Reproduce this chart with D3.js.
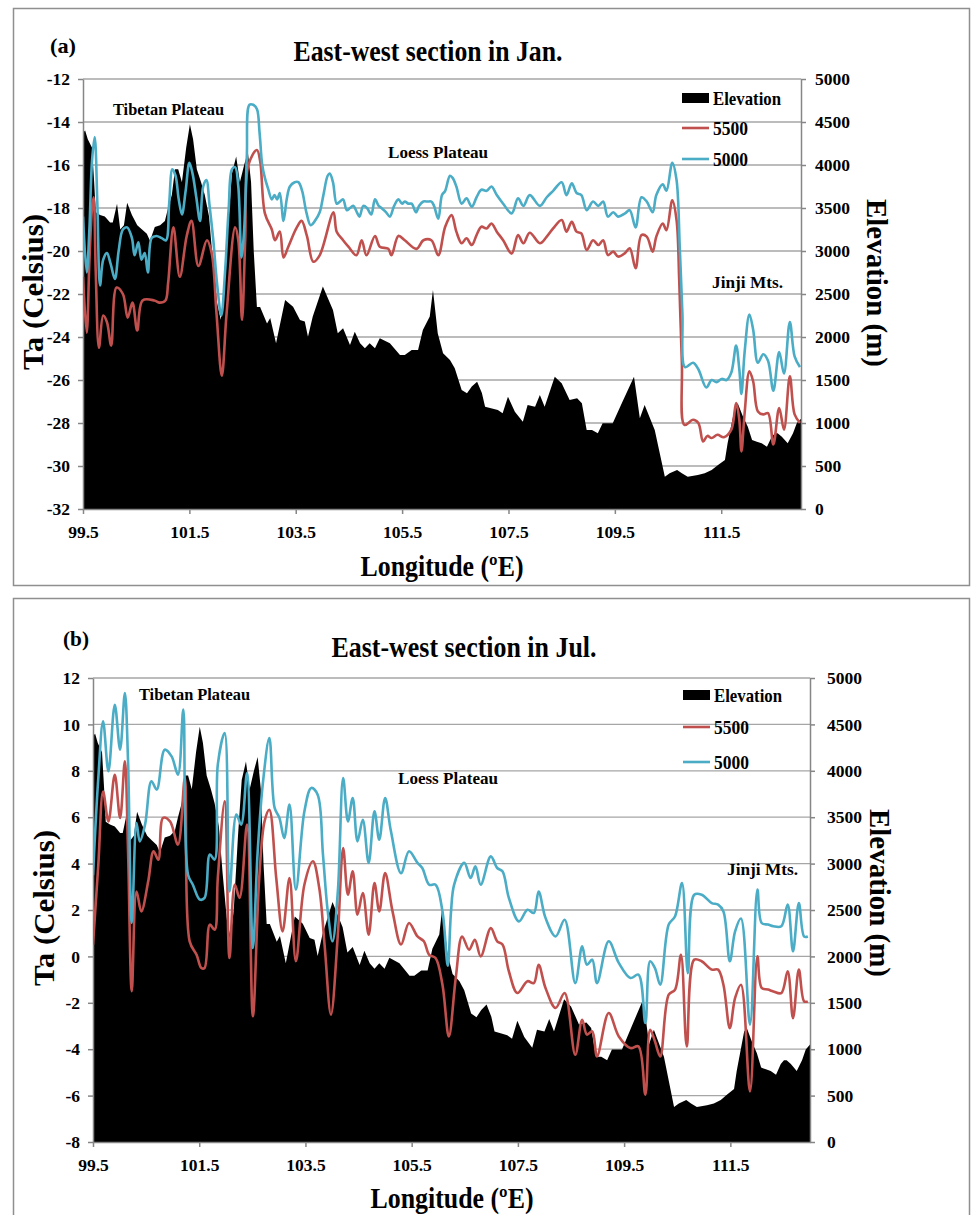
<!DOCTYPE html>
<html><head><meta charset="utf-8">
<script src="https://cdn.jsdelivr.net/npm/d3@7"></script>
<style>
body{margin:0;background:#fff}
svg{display:block}
text{font-family:"Liberation Serif","Times New Roman",serif;font-weight:bold;fill:#000}
</style>
</head><body>
<svg id="c" width="971" height="1215"></svg>
<script>
// ---------- DATA ----------
const lonTicks = [99.5, 101.5, 103.5, 105.5, 107.5, 109.5, 111.5];
const lonTickLabels = ["99.5", "101.5", "103.5", "105.5", "107.5", "109.5", "111.5"];
const elevTicks = [0, 500, 1000, 1500, 2000, 2500, 3000, 3500, 4000, 4500, 5000];
const janTicks = [-32, -30, -28, -26, -24, -22, -20, -18, -16, -14, -12];
const julTicks = [-8, -6, -4, -2, 0, 2, 4, 6, 8, 10, 12];
const seriesNames = ["Elevation", "5500", "5000"];

// Elevation profile (m) along the section
const elevLon = [99.50,99.54,99.59,99.67,99.71,99.74,99.82,99.91,100.01,100.06,100.14,100.20,100.27,100.33,100.42,100.52,100.61,100.70,100.76,100.85,100.95,101.04,101.10,101.17,101.23,101.29,101.36,101.44,101.51,101.57,101.64,101.72,101.79,101.87,101.94,102.02,102.09,102.15,102.23,102.30,102.38,102.45,102.53,102.60,102.66,102.71,102.77,102.83,102.96,103.02,103.13,103.30,103.45,103.58,103.67,103.73,103.82,104.01,104.20,104.29,104.39,104.52,104.61,104.71,104.80,104.89,104.99,105.08,105.27,105.46,105.55,105.68,105.80,105.89,106.02,106.08,106.17,106.27,106.40,106.49,106.62,106.72,106.81,106.91,107.00,107.06,107.19,107.30,107.39,107.49,107.62,107.77,107.86,108.00,108.09,108.18,108.37,108.50,108.65,108.79,108.88,108.97,109.07,109.18,109.27,109.46,109.63,109.86,109.97,110.06,110.25,110.44,110.53,110.67,110.76,110.87,111.06,111.19,111.32,111.44,111.57,111.62,111.76,111.81,111.91,112.00,112.08,112.17,112.26,112.36,112.45,112.51,112.56,112.64,112.75,112.85,112.92,113.00];
const elevM = [4375,4400,4300,4200,3800,3450,3420,3400,3330,3330,3550,3250,3300,3560,3420,3300,3250,3200,3120,3280,3300,3350,3500,3650,3950,3950,3800,4200,4475,4300,3950,3800,3650,3400,2900,2400,2200,2500,3300,3900,4100,3800,4000,4150,3800,3000,2350,2350,2158,2220,1927,2430,2353,2198,2180,2004,2237,2586,2314,2043,2101,1907,2062,1927,1868,1927,1868,1985,1927,1791,1791,1849,1849,2082,2237,2547,2043,1810,1733,1636,1384,1345,1423,1481,1350,1190,1170,1151,1112,1306,1132,1015,1209,1190,1326,1190,1539,1461,1267,1287,1229,919,919,880,996,996,1229,1539,1054,1209,919,376,415,453,415,376,396,415,453,512,570,764,1190,1229,1074,957,802,783,764,725,841,880,880,841,764,880,996,1050];

// January, 5000 m (blue)
const jan5000Lon = [99.50,99.57,99.62,99.67,99.72,99.77,99.82,99.88,99.95,100.02,100.10,100.17,100.25,100.33,100.42,100.47,100.54,100.60,100.66,100.72,100.79,100.88,100.98,101.06,101.12,101.18,101.24,101.30,101.36,101.43,101.50,101.56,101.63,101.70,101.76,101.82,101.88,101.95,102.02,102.10,102.17,102.24,102.30,102.36,102.42,102.48,102.53,102.58,102.63,102.70,102.77,102.82,102.87,102.92,102.98,103.05,103.10,103.15,103.20,103.27,103.33,103.39,103.48,103.55,103.62,103.70,103.78,103.86,103.95,104.02,104.10,104.14,104.20,104.27,104.33,104.39,104.46,104.52,104.58,104.65,104.70,104.77,104.84,104.92,104.99,105.06,105.11,105.20,105.27,105.35,105.43,105.50,105.55,105.62,105.68,105.76,105.82,105.90,105.98,106.05,106.10,106.18,106.25,106.31,106.40,106.45,106.52,106.62,106.71,106.81,106.90,106.99,107.09,107.18,107.28,107.40,107.56,107.68,107.78,107.90,108.09,108.22,108.34,108.50,108.59,108.69,108.78,108.87,108.97,109.09,109.19,109.28,109.37,109.47,109.56,109.69,109.78,109.89,110.00,110.10,110.21,110.28,110.40,110.47,110.58,110.66,110.72,110.77,110.82,110.97,111.07,111.22,111.32,111.41,111.51,111.60,111.69,111.78,111.84,111.88,111.94,112.03,112.10,112.19,112.29,112.38,112.48,112.59,112.68,112.79,112.88,112.98];
const jan5000T = [-18.4,-21.0,-19.0,-15.8,-14.7,-17.8,-21.6,-20.4,-20.1,-20.6,-21.3,-20.0,-19.0,-18.9,-19.4,-20.2,-19.6,-20.4,-20.1,-21.0,-19.4,-19.3,-19.4,-19.5,-17.8,-16.2,-16.5,-17.6,-18.3,-17.2,-15.9,-16.4,-17.5,-18.6,-17.0,-16.7,-17.9,-19.5,-21.5,-23.0,-21.0,-18.0,-16.2,-16.1,-17.0,-20.3,-19.0,-15.6,-13.2,-13.2,-13.4,-14.5,-16.0,-16.6,-17.1,-17.6,-17.4,-17.6,-17.3,-18.6,-17.6,-17.0,-16.8,-16.8,-17.2,-18.2,-18.8,-18.6,-18.2,-17.4,-16.5,-16.4,-16.8,-17.8,-17.7,-17.6,-18.1,-18.0,-17.9,-18.2,-18.4,-17.9,-18.0,-18.3,-17.6,-17.9,-18.0,-18.2,-18.4,-17.9,-17.6,-17.8,-17.7,-17.8,-17.8,-18.2,-17.9,-17.7,-17.7,-17.7,-17.9,-18.5,-17.4,-17.2,-16.5,-16.6,-17.0,-17.8,-17.55,-17.94,-17.5,-17.15,-17.2,-17.0,-17.4,-17.8,-18.25,-17.55,-17.9,-17.4,-17.9,-17.5,-17.2,-16.8,-17.4,-16.85,-17.3,-17.4,-18.1,-17.7,-17.9,-17.7,-18.4,-18.2,-18.4,-18.25,-18.1,-18.9,-17.5,-17.7,-18.2,-17.4,-16.9,-17.2,-15.9,-16.7,-19.8,-22.9,-25.4,-25.2,-25.5,-26.35,-26.0,-26.1,-25.95,-26.0,-25.65,-24.4,-25.5,-26.65,-24.7,-22.95,-23.65,-25.2,-24.8,-25.1,-26.5,-24.7,-25.7,-23.3,-24.9,-25.4];

// January, 5500 m (red)
const jan5500Lon = [99.50,99.57,99.62,99.67,99.70,99.74,99.80,99.88,99.95,100.03,100.13,100.25,100.34,100.43,100.52,100.62,100.84,100.94,101.05,101.10,101.20,101.32,101.45,101.54,101.67,101.83,101.92,102.01,102.11,102.20,102.36,102.42,102.49,102.55,102.61,102.77,102.83,102.92,103.05,103.11,103.20,103.27,103.36,103.52,103.61,103.71,103.83,103.95,104.21,104.27,104.39,104.49,104.64,104.74,104.83,104.99,105.08,105.24,105.30,105.43,105.55,105.77,105.90,106.05,106.18,106.31,106.43,106.52,106.62,106.71,106.81,106.90,106.99,107.09,107.18,107.28,107.40,107.56,107.68,107.78,107.90,108.09,108.22,108.34,108.50,108.59,108.69,108.78,108.87,108.97,109.09,109.19,109.28,109.37,109.47,109.56,109.69,109.78,109.89,110.00,110.10,110.21,110.28,110.40,110.47,110.58,110.66,110.71,110.76,110.81,110.97,111.07,111.16,111.24,111.32,111.43,111.55,111.69,111.78,111.84,111.88,111.94,112.03,112.10,112.19,112.29,112.38,112.48,112.59,112.68,112.79,112.88,112.98];
const jan5500T = [-21.2,-23.8,-20.5,-18.0,-17.5,-21.0,-24.5,-23.0,-23.3,-24.4,-21.7,-22.0,-23.1,-22.4,-23.7,-22.3,-22.3,-22.4,-22.3,-21.5,-18.9,-21.2,-19.3,-18.6,-20.7,-19.5,-20.1,-22.9,-25.8,-22.9,-18.9,-19.5,-23.2,-19.5,-16.0,-15.3,-15.8,-18.25,-19.0,-19.5,-19.1,-20.3,-19.8,-18.9,-18.6,-19.3,-20.5,-20.2,-18.2,-19.1,-19.5,-19.8,-20.2,-19.5,-20.2,-19.3,-19.8,-19.9,-20.2,-19.3,-19.5,-19.9,-19.5,-19.5,-20.2,-18.87,-18.33,-19.1,-19.64,-19.41,-19.72,-19.26,-18.87,-18.95,-18.72,-19.1,-19.5,-20.12,-19.26,-19.64,-19.15,-19.64,-19.33,-18.95,-18.56,-19.1,-18.64,-19.1,-19.18,-19.95,-19.5,-19.72,-19.5,-20.19,-20.03,-20.26,-20.1,-19.87,-20.8,-19.26,-19.33,-20.03,-19.33,-18.72,-19.03,-17.64,-18.56,-21.35,-25.2,-28.09,-27.85,-28.0,-28.86,-28.6,-28.7,-28.55,-28.66,-28.31,-27.07,-27.85,-29.32,-27.54,-25.6,-26.06,-27.46,-27.6,-27.54,-29.0,-27.3,-28.31,-25.83,-27.6,-27.99];

// July, 5000 m (blue)
const jul5000Lon = [99.50,99.60,99.69,99.79,99.91,100.01,100.10,100.16,100.23,100.32,100.38,100.48,100.60,100.70,100.85,100.98,101.10,101.20,101.29,101.38,101.51,101.60,101.70,101.79,101.85,101.98,102.07,102.20,102.29,102.40,102.51,102.60,102.70,102.82,102.92,103.01,103.10,103.20,103.32,103.48,103.61,103.73,103.83,103.92,104.01,104.11,104.21,104.30,104.39,104.48,104.58,104.69,104.80,104.89,105.00,105.11,105.30,105.45,105.61,105.70,105.83,105.95,106.08,106.18,106.24,106.30,106.49,106.61,106.70,106.80,106.99,107.11,107.21,107.33,107.52,107.68,107.80,107.89,108.02,108.21,108.38,108.58,108.71,108.80,108.90,108.99,109.21,109.40,109.62,109.77,109.90,109.99,110.08,110.18,110.34,110.46,110.59,110.70,110.82,110.96,111.15,111.27,111.37,111.49,111.59,111.70,111.87,112.01,112.09,112.21,112.31,112.46,112.58,112.68,112.79,112.89,112.96];
const jul5000T = [3.5,7.69,10.13,7.98,10.85,8.91,11.35,8.41,1.44,5.75,4.96,5.68,7.55,7.19,8.91,8.62,7.83,10.64,3.52,3.09,2.45,2.52,4.39,4.17,8.26,9.63,2.8,6.11,5.68,7.9,0.36,4.5,7.5,9.41,6.4,5.97,5.1,6.54,2.88,6.25,7.26,6.97,4.39,1.94,0.65,2.8,7.69,5.82,6.83,4.96,5.89,4.03,6.25,5.03,6.83,5.39,3.59,4.53,4.03,3.81,3.09,3.09,1.94,-0.4,1.9,3.09,4.03,3.38,3.88,3.09,4.31,3.81,3.67,2.52,1.51,2.01,1.87,2.8,1.66,0.86,1.58,-1.15,0.43,-0.36,-0.14,-1.15,0.65,-0.28,-0.93,-0.79,-2.87,-0.21,-0.5,-1.22,1.37,1.73,3.16,-0.72,2.66,2.66,2.3,2.23,1.94,-0.21,1.08,1.63,-2.94,2.88,1.44,1.37,1.3,1.3,2.23,0.22,2.3,0.86,0.86];

// July, 5500 m (red)
const jul5500Lon = [99.50,99.60,99.69,99.79,99.91,100.01,100.10,100.16,100.23,100.32,100.41,100.54,100.64,100.73,100.82,100.95,101.10,101.23,101.32,101.45,101.54,101.60,101.70,101.79,101.85,101.98,102.07,102.17,102.26,102.40,102.51,102.63,102.73,102.82,102.95,103.07,103.20,103.32,103.48,103.64,103.76,103.86,103.98,104.11,104.21,104.30,104.39,104.48,104.58,104.69,104.80,104.89,105.00,105.14,105.30,105.45,105.61,105.73,105.83,105.95,106.08,106.20,106.33,106.45,106.58,106.69,106.80,106.99,107.11,107.21,107.33,107.49,107.68,107.80,107.89,108.02,108.21,108.38,108.58,108.71,108.80,108.90,108.99,109.21,109.40,109.62,109.77,109.90,109.99,110.08,110.18,110.34,110.46,110.57,110.68,110.82,110.96,111.15,111.27,111.37,111.49,111.59,111.70,111.87,112.01,112.09,112.21,112.31,112.46,112.58,112.68,112.79,112.89,112.96];
const jul5500T = [0.51,3.95,7.11,5.82,7.83,5.97,8.41,4.53,-1.5,2.8,1.94,3.24,4.53,4.17,5.97,5.82,4.82,7.69,0.65,0.07,-0.5,-0.5,1.37,1.15,3.38,6.68,-0.07,3.09,2.52,5.68,-2.58,3.38,5.82,6.32,3.38,1.08,3.38,-0.21,3.09,4.1,2.95,0.51,-2.51,0.94,4.67,2.66,3.67,1.8,2.73,0.94,3.16,1.94,3.59,1.94,0.51,1.44,0.86,0.65,0.07,-0.07,-1.22,-3.45,-0.93,0.86,0.29,0.72,0.0,1.22,0.65,0.51,-0.64,-1.58,-1.07,-1.15,-0.36,-1.36,-2.22,-1.58,-4.24,-2.73,-3.37,-3.23,-4.31,-2.44,-3.45,-3.95,-3.88,-5.96,-3.16,-3.66,-4.31,-1.65,-1.43,0.07,-3.88,-0.14,-0.21,-0.57,-0.57,-1.22,-3.09,-1.79,-1.22,-5.82,0.0,-1.36,-1.43,-1.51,-1.58,-0.64,-2.66,-0.57,-1.94,-1.94];

// ---------- STYLE / LAYOUT ----------
const RED = "#c0504d", BLUE = "#4bacc6", GRID = "#a6a6a6", AXIS = "#868686";

const panels = [
  { id: "a", tag: "(a)", title: "East-west section in Jan.", ticks: janTicks,
    lon5500: jan5500Lon, t5500: jan5500T, lon5000: jan5000Lon, t5000: jan5000T,
    box: [13, 8, 956, 577], left: 83, right: 801, top: 79, bottom: 509,
    titleX: 428, titleY: 61, titleW: 269, tagX: 50, tagY: 53,
    yTitleX: 33, yTitleY: 292, rTitleX: 877, rTitleY: 283, xTitleX: 442, xTitleY: 576,
    rPad: 9,
    legX: 682, legY: [98, 128, 159],
    notes: [["Tibetan Plateau", 113, 115, 111], ["Loess Plateau", 388, 158, 100], ["Jinji Mts.", 712, 288, 71]] },
  { id: "b", tag: "(b)", title: "East-west section in Jul.", ticks: julTicks,
    lon5500: jul5500Lon, t5500: jul5500T, lon5000: jul5000Lon, t5000: jul5000T,
    box: [13, 598, 956, 640], left: 93, right: 810, top: 678, bottom: 1142,
    titleX: 464, titleY: 657, titleW: 265, tagX: 63, tagY: 646,
    yTitleX: 44, yTitleY: 908, rTitleX: 880, rTitleY: 893, xTitleX: 452, xTitleY: 1208,
    rPad: 12,
    legX: 683, legY: [695, 727, 762],
    notes: [["Tibetan Plateau", 139, 700, 111], ["Loess Plateau", 398, 784, 100], ["Jinji Mts.", 727, 875, 71]] }
];

const svg = d3.select("#c");

function drawPanel(p) {
  const g = svg.append("g");
  g.append("rect").attr("x", p.box[0] + 0.5).attr("y", p.box[1] + 0.5)
    .attr("width", p.box[2]).attr("height", p.box[3])
    .attr("fill", "none").attr("stroke", "#8f8f8f").attr("stroke-width", 1.5);

  const x = d3.scaleLinear().domain([99.5, 113.0]).range([p.left, p.right]);
  const yL = d3.scaleLinear().domain([p.ticks[0], p.ticks[p.ticks.length - 1]]).range([p.bottom, p.top]);
  const yR = d3.scaleLinear().domain([0, 5000]).range([p.bottom, p.top]);

  // gridlines
  g.append("g").selectAll("line").data(p.ticks.slice(1)).join("line")
    .attr("x1", p.left).attr("x2", p.right)
    .attr("y1", d => yL(d)).attr("y2", d => yL(d))
    .attr("stroke", GRID).attr("stroke-width", 1.3);

  // elevation area
  const area = d3.area()
    .x((d, i) => x(elevLon[i]))
    .y0(yR(0)).y1(d => yR(d));
  g.append("path").datum(elevM).attr("d", area).attr("fill", "#000");

  // axes
  const styleAxis = (sel) => {
    sel.select(".domain").attr("stroke", AXIS).attr("stroke-width", 1.5);
    sel.selectAll(".tick line").attr("stroke", AXIS).attr("stroke-width", 1.5);
    sel.selectAll(".tick text").style("font-size", "17.5px")
      .style("font-family", '"Liberation Serif","Times New Roman",serif')
      .style("font-weight", "bold").attr("fill", "#000");
  };
  g.append("g").attr("transform", `translate(${p.left},0)`)
    .call(d3.axisLeft(yL).tickValues(p.ticks).tickFormat(d => String(d)).tickSize(5).tickSizeOuter(0).tickPadding(8))
    .call(styleAxis);
  g.append("g").attr("transform", `translate(${p.right},0)`)
    .call(d3.axisRight(yR).tickValues(elevTicks).tickFormat(d => String(d)).tickSize(5).tickSizeOuter(0).tickPadding(p.rPad))
    .call(styleAxis);
  g.append("g").attr("transform", `translate(0,${p.bottom})`)
    .call(d3.axisBottom(x).tickValues(lonTicks).tickFormat((d, i) => lonTickLabels[i]).tickSize(5).tickSizeOuter(0).tickPadding(12))
    .call(styleAxis);

  // temperature lines
  const clipId = "clip" + p.id;
  g.append("clipPath").attr("id", clipId).append("rect")
    .attr("x", p.left).attr("y", p.top - 3).attr("width", p.right - p.left).attr("height", p.bottom - p.top + 3);
  const mkLine = (lons) => d3.line()
    .x((d, i) => x(lons[i])).y(d => yL(d))
    .curve(d3.curveCatmullRom.alpha(0.5));
  g.append("path").datum(p.t5500).attr("d", mkLine(p.lon5500)).attr("clip-path", `url(#${clipId})`)
    .attr("fill", "none").attr("stroke", RED).attr("stroke-width", 2.6).attr("stroke-linejoin", "round");
  g.append("path").datum(p.t5000).attr("d", mkLine(p.lon5000)).attr("clip-path", `url(#${clipId})`)
    .attr("fill", "none").attr("stroke", BLUE).attr("stroke-width", 2.6).attr("stroke-linejoin", "round");

  // texts
  const txt = (s, xx, yy, size, len, anchor) => {
    const t = g.append("text").attr("x", xx).attr("y", yy).style("font-size", size + "px")
      .attr("text-anchor", anchor || "start").text(s);
    if (len) t.attr("textLength", len).attr("lengthAdjust", "spacingAndGlyphs");
    return t;
  };
  txt(p.tag, p.tagX, p.tagY, 22, 26);
  txt(p.title, p.titleX, p.titleY, 29, p.titleW, "middle");
  txt("Longitude (ºE)", p.xTitleX, p.xTitleY, 29, 163, "middle");
  g.append("text").attr("transform", `translate(${p.yTitleX},${p.yTitleY}) rotate(-90)`)
    .attr("text-anchor", "middle").attr("dy", "0.35em").style("font-size", "29px")
    .attr("textLength", 156).attr("lengthAdjust", "spacingAndGlyphs").text("Ta (Celsius)");
  g.append("text").attr("transform", `translate(${p.rTitleX},${p.rTitleY}) rotate(90)`)
    .attr("text-anchor", "middle").attr("dy", "0.35em").style("font-size", "29px")
    .attr("textLength", 168).attr("lengthAdjust", "spacingAndGlyphs").text("Elevation (m)");

  // annotations
  p.notes.forEach(n => txt(n[0], n[1], n[2], 17.5, n[3]));

  // legend
  const lx = p.legX;
  g.append("rect").attr("x", lx).attr("y", p.legY[0] - 5).attr("width", 27).attr("height", 10).attr("fill", "#000");
  [RED, BLUE].forEach((c, k) => {
    g.append("line").attr("x1", lx).attr("x2", lx + 27)
      .attr("y1", p.legY[k + 1]).attr("y2", p.legY[k + 1])
      .attr("stroke", c).attr("stroke-width", 2.6);
  });
  txt(seriesNames[0], lx + 31, p.legY[0] + 6.5, 19, 68);
  txt(seriesNames[1], lx + 31, p.legY[1] + 6.5, 19, 35);
  txt(seriesNames[2], lx + 31, p.legY[2] + 6.5, 19, 35);
}

panels.forEach(drawPanel);
</script>
</body></html>
